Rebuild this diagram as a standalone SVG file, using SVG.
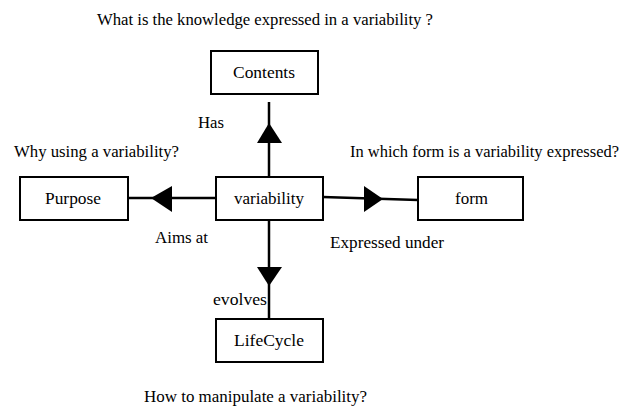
<svg xmlns="http://www.w3.org/2000/svg" width="624" height="407" viewBox="0 0 624 407">
<style>
.t{font-family:'Liberation Serif','Times New Roman',serif;font-size:16px;fill:#000}
.b{font-size:17.5px}
.box{fill:#fff;stroke:#000;stroke-width:2}
.ln{stroke:#000;stroke-width:2.5;fill:none}
.tri{fill:#000}
</style>
<rect width="624" height="407" fill="#fff"/>
<g class="t">
<text x="97" y="25" textLength="336" lengthAdjust="spacingAndGlyphs">What is the knowledge expressed in a variability ?</text>
<text x="14" y="157" textLength="165" lengthAdjust="spacingAndGlyphs">Why using a variability?</text>
<text x="350" y="157" textLength="269" lengthAdjust="spacingAndGlyphs">In which form is a variability expressed?</text>
<text x="144" y="402" textLength="223" lengthAdjust="spacingAndGlyphs">How to manipulate a variability?</text>
</g>
<g id="connectors">
<line class="ln" x1="269" y1="102" x2="269" y2="176"/>
<polygon class="tri" points="269,123 257,143 282,143"/>
<line class="ln" x1="128" y1="198" x2="216" y2="198"/>
<polygon class="tri" points="151,198 172,186 172,212"/>
<line class="ln" x1="323" y1="197" x2="418" y2="200"/>
<polygon class="tri" points="364,186 383,199 364,212"/>
<line class="ln" x1="269" y1="220" x2="269" y2="319"/>
<polygon class="tri" points="257,267 282,267 269,286"/>
<g class="t">
<text x="198" y="128" textLength="26" lengthAdjust="spacingAndGlyphs">Has</text>
<text x="155" y="243" textLength="53" lengthAdjust="spacingAndGlyphs">Aims at</text>
<text x="330" y="248" textLength="114" lengthAdjust="spacingAndGlyphs">Expressed under</text>
<text x="213" y="305" textLength="54" lengthAdjust="spacingAndGlyphs">evolves</text>
</g>
</g>
<g id="contents">
<rect class="box" x="211" y="51" width="107" height="43"/>
<text class="t b" x="233" y="78" textLength="62" lengthAdjust="spacingAndGlyphs">Contents</text>
</g>
<g id="variability">
<rect class="box" x="216" y="177" width="107" height="43"/>
<text class="t b" x="234" y="204" textLength="70" lengthAdjust="spacingAndGlyphs">variability</text>
</g>
<g id="purpose">
<rect class="box" x="20" y="177" width="108" height="43"/>
<text class="t b" x="45" y="204" textLength="56" lengthAdjust="spacingAndGlyphs">Purpose</text>
</g>
<g id="form">
<rect class="box" x="418" y="177" width="105" height="43"/>
<text class="t b" x="455" y="204" textLength="33" lengthAdjust="spacingAndGlyphs">form</text>
</g>
<g id="lifecycle">
<rect class="box" x="216" y="319" width="107" height="43"/>
<text class="t b" x="234" y="346" textLength="70" lengthAdjust="spacingAndGlyphs">LifeCycle</text>
</g>
</svg>
